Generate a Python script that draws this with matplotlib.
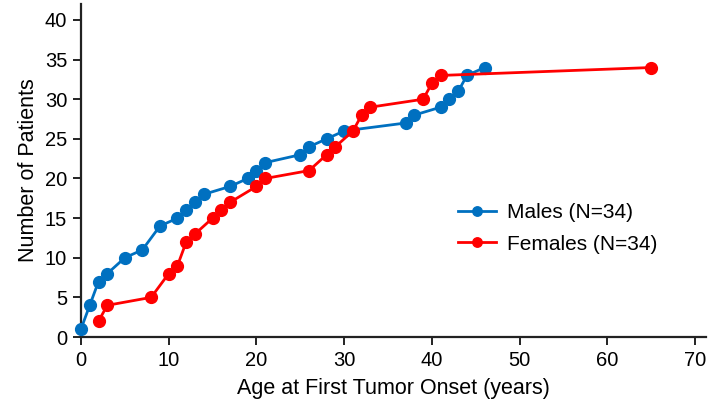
import matplotlib
matplotlib.use("Agg")
import matplotlib.pyplot as plt

plt.rcParams["font.family"] = ["Liberation Sans", "DejaVu Sans"]

# cumulative count of patients by age at first tumor onset
male_age = [0, 1, 2, 3, 5, 7, 9, 11, 12, 13, 14, 17, 19, 20, 21, 25, 26, 28,
            30, 37, 38, 41, 42, 43, 44, 46]
male_n = [1, 4, 7, 8, 10, 11, 14, 15, 16, 17, 18, 19, 20, 21, 22, 23, 24, 25,
          26, 27, 28, 29, 30, 31, 33, 34]
female_age = [2, 3, 8, 10, 11, 12, 13, 15, 16, 17, 20, 21, 26, 28, 29, 31, 32,
              33, 39, 40, 41, 65]
female_n = [2, 4, 5, 8, 9, 12, 13, 15, 16, 17, 19, 20, 21, 23, 24, 26, 28,
            29, 30, 32, 33, 34]

x_ticks = [0, 10, 20, 30, 40, 50, 60, 70]
y_ticks = [0, 5, 10, 15, 20, 25, 30, 35, 40]

BLUE = "#0070C0"
RED = "#FF0000"

fig = plt.figure(figsize=(7.09, 4.12), dpi=100)
ax = fig.add_axes([0.1142, 0.182, 0.881, 0.808])

ax.plot(male_age, male_n, "-o", color=BLUE, lw=2.0, ms=8.5,
        label="Males (N=34)", clip_on=False, zorder=3)
ax.plot(female_age, female_n, "-o", color=RED, lw=2.0, ms=8.5,
        label="Females (N=34)", clip_on=False, zorder=3)

ax.set_xlim(0, 71.2)
ax.set_ylim(0, 42)
ax.set_xticks(x_ticks)
ax.set_yticks(y_ticks)

for side in ("top", "right"):
    ax.spines[side].set_visible(False)
for side in ("left", "bottom"):
    ax.spines[side].set_linewidth(1.6)
    ax.spines[side].set_color("#222222")

ax.tick_params(axis="both", direction="out", length=6, width=1.4,
               labelsize=14.5, color="#222222", pad=4)
ax.set_xlabel("Age at First Tumor Onset (years)", fontsize=15.5, labelpad=6)
ax.set_ylabel("Number of Patients", fontsize=15.5, labelpad=4)

ax.legend(loc="center left", bbox_to_anchor=(0.603, 0.326), frameon=False,
          fontsize=15, handlelength=1.85, labelspacing=0.6, handletextpad=0.5,
          borderpad=0, borderaxespad=0, markerscale=0.8)

fig.savefig("out.png", dpi=100)
